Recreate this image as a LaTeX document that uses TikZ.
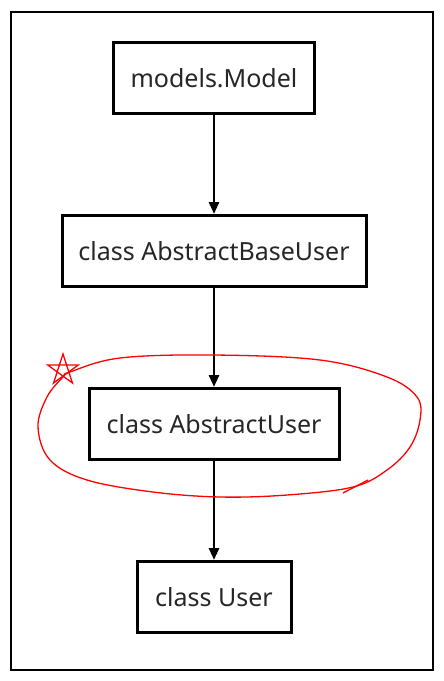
\documentclass[tikz,border=0pt]{standalone}
\usepackage{fontspec}
\setmainfont{Noto Sans}
\usetikzlibrary{arrows.meta, positioning}
\tikzstyle{classbox} = [rectangle, minimum height=71pt, inner xsep=14pt, draw = black, line width=3pt, text=black!85, font=\fontsize{25}{28}\selectfont]
\tikzstyle{arrow} = [line width=2.8pt, -{Triangle[length=12pt, width=10pt]}]
\tikzstyle{frame} = [line width=2.5pt]
\tikzstyle{redmark} = [red, line width=1.3pt]

\begin{document}
\begin{tikzpicture}[x=1pt, y=-1pt, node distance = 99pt]
	\useasboundingbox (0,0) rectangle (444,681);
	\draw[frame] (11,12) rectangle (433,670);

	% Class nodes - - - - - - - - - - - - - - - - - - - - - - - - - - - - - - -
	
	%base model
	\node(model) [classbox, minimum width=201pt] at (214,78) {models.Model};
	%abstract base user
	\node(baseuser) [classbox, minimum width=304pt, below= of model] {class AbstractBaseUser};
	%abstract user
	\node(absuser) [classbox, minimum width=250pt, below= of baseuser] {class AbstractUser};
	%user
	\node(user) [classbox, minimum width=154pt, below= of absuser] {class User};

	% Arrows - - - - - - - - - - - - - - - - - - - - - - - - - - - - - - - - - -
	\draw[arrow](model)--(baseuser);
	\draw[arrow](baseuser)--(absuser);
	\draw[arrow](absuser)--(user);

	% Red marks - - - - - - - - - - - - - - - - - - - - - - - - - - - - - - - -
	\coordinate(star) at (63,370);
	\draw[redmark] plot[smooth cycle, tension=0.6] coordinates {
		(70,372) (120,358) (213,355) (320,360) (387,377) (417,397) (420,420)
		(410,447) (387,470) (353,487) (287,495) (220,497) (153,492) (87,480)
		(50,460) (38,427) (47,397) (63,377)};
	\draw[redmark] (343,493) -- (368,480);
	\draw[redmark] ([shift={(-90:16)}]star) -- ([shift={(54:16)}]star)
		-- ([shift={(198:16)}]star) -- ([shift={(342:16)}]star)
		-- ([shift={(126:16)}]star) -- cycle;
\end{tikzpicture}
\end{document}
